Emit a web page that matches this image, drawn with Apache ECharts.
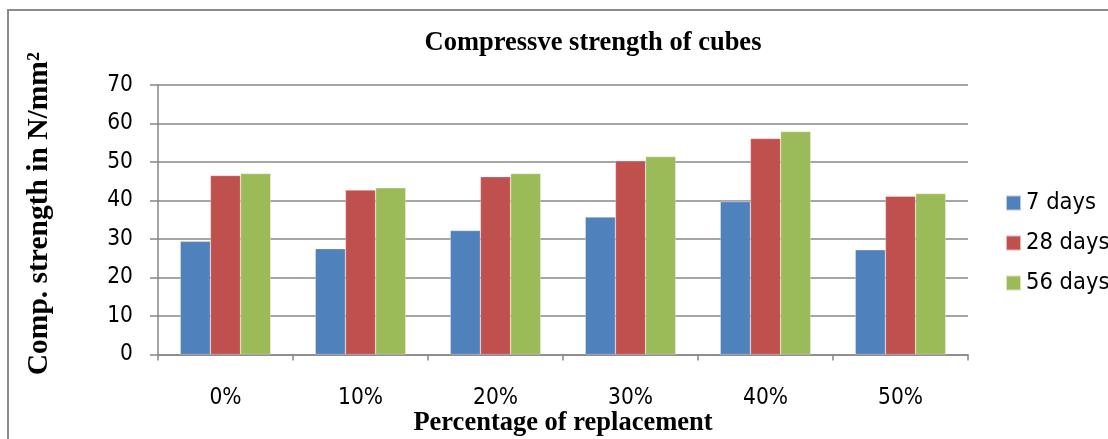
<!DOCTYPE html>
<html><head><meta charset="utf-8">
<script src="https://cdn.jsdelivr.net/npm/echarts@6/dist/echarts.min.js"></script>
<style>html,body{margin:0;padding:0;background:#fff}#c{width:1108px;height:439px}</style>
</head><body><div id="c"></div>
<script>
const categories = ['0%', '10%', '20%', '30%', '40%', '50%'];
const days7 = [29.4, 27.5, 32.2, 35.7, 39.7, 27.2];
const days28 = [46.5, 42.7, 46.2, 50.3, 56.1, 41.1];
const days56 = [47.0, 43.3, 47.0, 51.4, 57.9, 41.8];
const seriesNames = ['7 days', '28 days', '56 days'];
const yTicks = [0, 70, 10];

const chart = echarts.init(document.getElementById('c'));
const sansFont = '"DejaVu Sans Condensed", "Liberation Sans"';
const serifFont = 'Liberation Serif';
const grey = '#878787';
function bar(name, data, color) {
  return { name, type: 'bar', data, barGap: '0%', barCategoryGap: '33%',
    itemStyle: { color, borderColor: 'rgba(255,255,255,0.6)', borderWidth: 0.5 } };
}
chart.setOption({
  animation: false,
  title: { text: 'Compressve strength of cubes', left: 593, top: 30, textAlign: 'center', padding: 0,
    textStyle: { fontFamily: serifFont, fontWeight: 'bold', fontSize: 26.5, color: '#000' } },
  graphic: [{ type: 'rect', shape: { x: 8, y: 10, width: 1120, height: 460 },
    style: { fill: 'none', stroke: '#8c8c8c', lineWidth: 2 } }],
  legend: { orient: 'vertical', left: 1005, top: 191, padding: 0, itemWidth: 15, itemHeight: 15, itemGap: 16,
    icon: 'rect', textStyle: { fontFamily: sansFont, fontSize: 23.5, color: '#000' } },
  grid: { left: 158, right: 140, top: 85, bottom: 84.5, outerBoundsMode: 'none', containLabel: false },
  xAxis: { type: 'category', data: categories,
    name: 'Percentage of replacement', nameLocation: 'middle', nameGap: 55, nameMoveOverlap: false,
    nameTextStyle: { fontFamily: serifFont, fontWeight: 'bold', fontSize: 26.5, color: '#000' },
    axisLine: { lineStyle: { color: grey, width: 1.5 } },
    axisTick: { show: true, length: 6, lineStyle: { color: grey, width: 1.5 } },
    axisLabel: { margin: 32, fontFamily: sansFont, fontSize: 22.5, color: '#000' } },
  yAxis: { type: 'value', min: yTicks[0], max: yTicks[1], interval: yTicks[2],
    name: 'Comp. strength in N/mm²', nameLocation: 'middle', nameGap: 104, nameRotate: 90, nameMoveOverlap: false,
    nameTextStyle: { fontFamily: serifFont, fontWeight: 'bold', fontSize: 29.5, color: '#000', padding: [0, 0, 0, 12] },
    axisLine: { show: true, lineStyle: { color: grey, width: 1.5 } },
    axisTick: { show: true, length: 8, lineStyle: { color: grey, width: 1.5 } },
    axisLabel: { margin: 25, fontFamily: sansFont, fontSize: 22.5, color: '#000' },
    splitLine: { lineStyle: { color: grey, width: 1.5 } } },
  series: [bar(seriesNames[0], days7, '#4F81BD'), bar(seriesNames[1], days28, '#C0504D'), bar(seriesNames[2], days56, '#9BBB59')]
});
</script></body></html>
